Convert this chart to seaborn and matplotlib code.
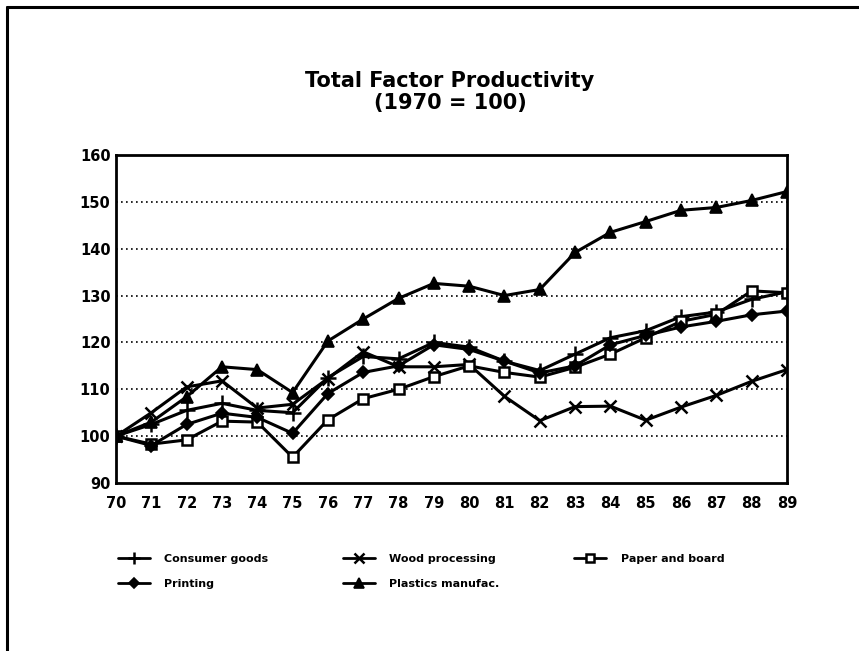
import numpy as np
import pandas as pd
import matplotlib
matplotlib.use("Agg")
import matplotlib.pyplot as plt
from matplotlib.lines import Line2D
import seaborn as sns

# ── DATA ──────────────────────────────────────────────────────
years = [70, 71, 72, 73, 74, 75, 76, 77, 78, 79,
         80, 81, 82, 83, 84, 85, 86, 87, 88, 89]

consumer = [100, 102.5, 105.5, 107, 105.5, 105, 112.5, 117, 116.5, 120,
            119, 116, 114, 117.5, 121, 122.5, 125.5, 126.5, 129.2, 130.8]
wood     = [100, 105, 110.5, 111.8, 106, 106.8, 112.3, 118, 114.8, 114.8,
            115.3, 108.5, 103.3, 106.3, 106.4, 103.4, 106.2, 108.7, 111.7, 114.2]
paper    = [100, 98.3, 99.2, 103.2, 103, 95.5, 103.5, 108, 110, 112.7,
            115, 113.6, 112.6, 114.7, 117.5, 121, 124.5, 126, 131, 130.6]
printing = [100, 98, 102.5, 104.9, 104, 100.6, 109.1, 113.6, 115, 119.5,
            118.5, 116, 113.5, 115, 119.5, 121.5, 123.3, 124.5, 125.9, 126.7]
plastics = [100, 103, 108.4, 114.8, 114.2, 109.3, 120.3, 125, 129.4, 132.6,
            132, 130, 131.3, 139.2, 143.5, 145.8, 148.2, 148.8, 150.3, 152.2]

names = ["Consumer goods", "Wood processing", "Paper and board",
         "Printing", "Plastics manufac."]
series = [consumer, wood, paper, printing, plastics]

df = pd.DataFrame({"year": years * len(names),
                   "value": sum(series, []),
                   "series": np.repeat(names, len(years))})

styles = {
    "Consumer goods":    dict(marker="+", ms=11, mew=1.8, mfc="black"),
    "Wood processing":   dict(marker="x", ms=9, mew=1.8, mfc="black"),
    "Paper and board":   dict(marker="s", ms=7, mew=1.8, mfc="white"),
    "Printing":          dict(marker="D", ms=6, mew=1.2, mfc="black"),
    "Plastics manufac.": dict(marker="^", ms=9, mew=1.2, mfc="black"),
}

# ── PLOT ──────────────────────────────────────────────────────
sns.set_style("white")
plt.rcParams["font.family"] = ["DejaVu Sans"]
plt.rcParams["font.weight"] = "bold"
plt.rcParams["text.color"] = "black"

fig = plt.figure(figsize=(8.59, 6.51), dpi=100)
ax = fig.add_axes([116 / 859, 1 - 483 / 651, 671 / 859, 328 / 651])

for name in names:
    st = styles[name]
    sns.lineplot(data=df[df["series"] == name], x="year", y="value", ax=ax,
                 color="black", lw=2.2, marker=st["marker"], markersize=st["ms"],
                 markeredgewidth=st["mew"], markerfacecolor=st["mfc"],
                 markeredgecolor="black", legend=False)

ax.set_xlim(70, 89)
ax.set_ylim(90, 160)
ax.set_xticks(years)
ax.set_yticks(range(90, 161, 10))
ax.set_xlabel("")
ax.set_ylabel("")
for y in range(100, 160, 10):
    ax.axhline(y, color="black", lw=1.2, ls=(0, (1, 2)), zorder=0)
for sp in ax.spines.values():
    sp.set_linewidth(2)
    sp.set_color("black")
ax.tick_params(axis="x", direction="in", length=4, width=1, pad=9,
               labelsize=10.5, colors="black")
ax.tick_params(axis="y", direction="in", length=0, pad=4,
               labelsize=10.5, colors="black")
for lab in ax.get_xticklabels() + ax.get_yticklabels():
    lab.set_fontweight("bold")

fig.text(0.524, 1 - 81 / 651, "Total Factor Productivity", ha="center",
         va="center", fontsize=15, fontweight="bold", color="black")
fig.text(0.524, 1 - 103 / 651, "(1970 = 100)", ha="center",
         va="center", fontsize=15, fontweight="bold", color="black")

# legend: column-major order so rows read as in the original
order = ["Consumer goods", "Printing", "Wood processing",
         "Plastics manufac.", "Paper and board"]
handles = []
for name in order:
    st = styles[name]
    handles.append(Line2D([], [], color="black", lw=2, marker=st["marker"],
                          markersize=st["ms"] * 0.85, markeredgewidth=st["mew"],
                          markerfacecolor=st["mfc"], markeredgecolor="black",
                          label=name))
leg = fig.legend(handles=handles, loc="upper left", ncol=3, frameon=False,
                 bbox_to_anchor=(112 / 859, 1 - 548 / 651), borderpad=0,
                 handlelength=2.9, handletextpad=1.3, columnspacing=6.7,
                 labelspacing=1.35, prop=dict(size=8, weight="bold"))
for t in leg.get_texts():
    t.set_color("black")

# page frame: left and top edges
fig.add_artist(Line2D([7 / 859, 7 / 859], [0, 1 - 7 / 651], color="black",
                      lw=2.2, transform=fig.transFigure))
fig.add_artist(Line2D([7 / 859, 1], [1 - 7 / 651, 1 - 7 / 651], color="black",
                      lw=2.2, transform=fig.transFigure))

fig.savefig("out.png", dpi=100)
